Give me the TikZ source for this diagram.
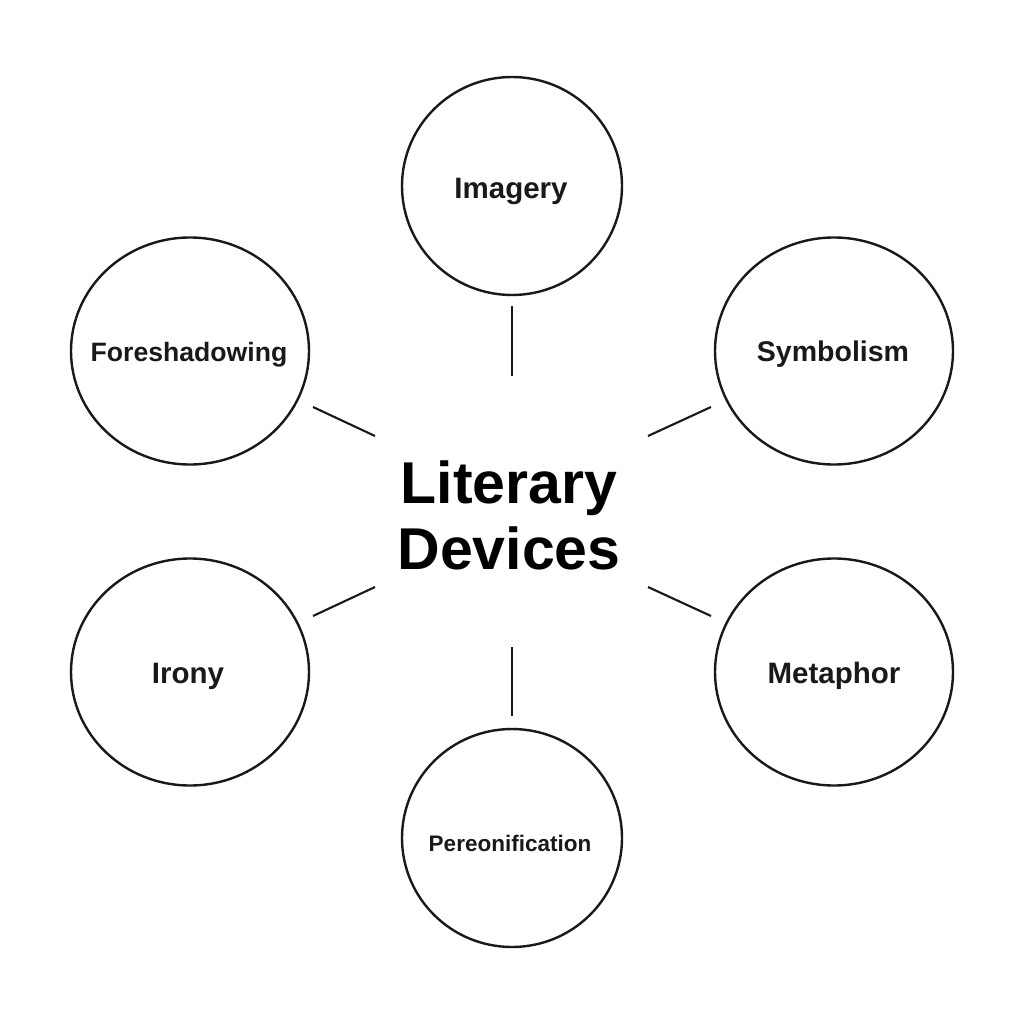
\documentclass[tikz,border=0pt]{standalone}
\usepackage{fontspec}
\setmainfont{Liberation Sans}
\usetikzlibrary{shapes.geometric}
\tikzset{
  device/.style={draw=black!90,line width=2.4pt,ellipse,inner sep=0pt,outer sep=0pt},
  widecirc/.style={device,minimum width=238pt,minimum height=227pt},
  tallcirc/.style={device,minimum width=220pt,minimum height=218pt},
  lbl/.style={font=\fontsize{#1}{32}\selectfont\bfseries,text=black!90},
  link/.style={draw=black!90,line width=2.1pt},
  title/.style={font=\fontsize{59}{66}\selectfont\bfseries,align=center,text=black,inner sep=0pt}
}
\begin{document}
\begin{tikzpicture}[x=1pt,y=-1pt]
\useasboundingbox (0,0) rectangle (1024,1024);
\fill[white] (0,0) rectangle (1024,1024);
\node[title] (center) at (509,515) {Literary\\Devices};
\node[tallcirc] (imagery) at (512,186) {};
\node[widecirc] (symbolism) at (834,351) {};
\node[widecirc] (metaphor) at (834,672) {};
\node[tallcirc] (person) at (512,838) {};
\node[widecirc] (irony) at (190,672) {};
\node[widecirc] (fore) at (190,351) {};
\node[lbl=29.5] (timagery) at (511,191) {Imagery};
\node[lbl=28.5] (tsymbolism) at (833,354) {Symbolism};
\node[lbl=29.5] (tmetaphor) at (834,676) {Metaphor};
\node[lbl=22.5] (tperson) at (510,843) {Pereonification};
\node[lbl=29.5] (tirony) at (188,676) {Irony};
\node[lbl=26.6] (tfore) at (189,355) {Foreshadowing};
\coordinate (a1) at (512,306); \coordinate (a2) at (512,376);
\coordinate (b1) at (711,407); \coordinate (b2) at (648,436);
\coordinate (c1) at (711,616); \coordinate (c2) at (648,587);
\coordinate (d1) at (512,716); \coordinate (d2) at (512,647);
\coordinate (e1) at (313,616); \coordinate (e2) at (375,587);
\coordinate (f1) at (313,407); \coordinate (f2) at (375,436);
\draw[link] (a1) -- (a2);
\draw[link] (b1) -- (b2);
\draw[link] (c1) -- (c2);
\draw[link] (d1) -- (d2);
\draw[link] (e1) -- (e2);
\draw[link] (f1) -- (f2);
\end{tikzpicture}
\end{document}
